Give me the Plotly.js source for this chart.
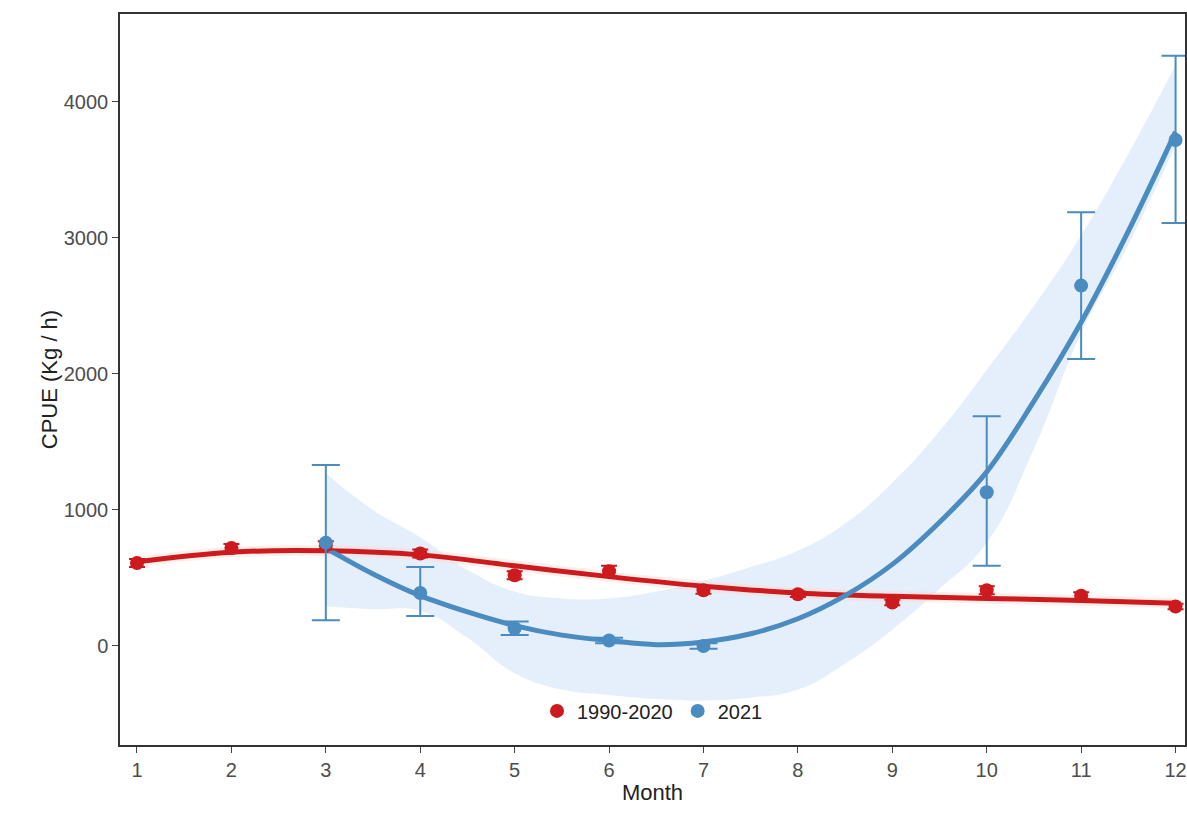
<!DOCTYPE html>
<html><head><script src="https://cdn.plot.ly/plotly-3.0.1.min.js"></script></head>
<body style="margin:0"><div id="plot" style="width:1187px;height:814px"></div>
<script>
var months = [1,2,3,4,5,6,7,8,9,10,11,12]
var redMean = [610,720,740,680,520,550,410,380,320,410,370,290]
var redErr = [30,30,30,30,30,40,25,20,20,30,25,20]
var redFit = [620,690,700,670,590,510,440,390,365,350,335,315]

var blueMonths = [3,4,5,6,7,10,11,12]
var blueMean = [760,390,130,40,0,1130,2650,3720]
var blueLow = [190,220,80,20,-20,590,2110,3110]
var blueHigh = [1330,580,180,60,20,1690,3190,4340]

var fitX = [3,3.5,4,4.5,5,5.5,6,6.5,7,7.5,8,8.5,9,9.5,10,10.5,11,11.5,12]
var blueFit = [720,530,370,250,150,80,40,10,30,90,200,370,600,910,1280,1800,2380,3050,3780]
var blueUpper = [1270,1000,800,560,400,350,350,400,480,580,700,900,1200,1580,2030,2500,3020,3620,4270]
var blueLower = [290,270,260,60,-200,-320,-360,-390,-400,-380,-320,-130,120,420,760,1450,2300,2950,3680]

var red = '#cc1a1f', blue = '#4a8bc0'
var traces = [
  {x: fitX, y: blueUpper, mode: 'lines', line: {width: 0, shape: 'spline', smoothing: 1.3}, showlegend: false, hoverinfo: 'skip'},
  {x: fitX, y: blueLower, mode: 'lines', line: {width: 0, shape: 'spline', smoothing: 1.3}, fill: 'tonexty', fillcolor: 'rgba(190,215,245,0.4)', showlegend: false, hoverinfo: 'skip'},
  {x: months, y: redFit.map(v => v + 40), mode: 'lines', line: {width: 0, shape: 'spline'}, showlegend: false},
  {x: months, y: redFit.map(v => v - 40), mode: 'lines', line: {width: 0, shape: 'spline'}, fill: 'tonexty', fillcolor: 'rgba(250,215,200,0.4)', showlegend: false},
  {x: months, y: redFit, mode: 'lines', line: {color: red, width: 5, shape: 'spline'}, showlegend: false},
  {x: fitX, y: blueFit, mode: 'lines', line: {color: blue, width: 5, shape: 'spline'}, showlegend: false},
  {x: months, y: redMean, mode: 'markers', name: '1990-2020', marker: {color: red, size: 14},
   error_y: {type: 'data', array: redErr, color: red, thickness: 2, width: 8}},
  {x: blueMonths, y: blueMean, mode: 'markers', name: '2021', marker: {color: blue, size: 14},
   error_y: {type: 'data', symmetric: false, array: blueHigh.map((h, i) => h - blueMean[i]),
     arrayminus: blueMean.map((m, i) => m - blueLow[i]), color: blue, thickness: 2, width: 14}}
]
Plotly.newPlot('plot', traces, {
  width: 1187, height: 814,
  margin: {l: 120, r: 2, t: 14, b: 69},
  paper_bgcolor: 'white', plot_bgcolor: 'white',
  font: {family: 'Liberation Sans, Arial', size: 20, color: '#4d4d4d'},
  xaxis: {range: [0.82, 12.1], tickvals: months, showgrid: false, zeroline: false,
    showline: true, mirror: true, linecolor: '#333', linewidth: 1.5, ticks: 'outside', ticklen: 6,
    title: {text: 'Month', font: {size: 22, color: '#222'}, standoff: 5}},
  yaxis: {range: [-728, 4647], tickvals: [0,1000,2000,3000,4000], showgrid: false, zeroline: false,
    showline: true, mirror: true, linecolor: '#333', linewidth: 1.5, ticks: 'outside', ticklen: 6,
    title: {text: 'CPUE (Kg / h)', font: {size: 22, color: '#222'}}},
  legend: {orientation: 'h', traceorder: 'normal', x: 0.5, xanchor: 'center', y: 0.02, yanchor: 'bottom',
    bgcolor: 'rgba(0,0,0,0)', font: {size: 20, color: '#222'}}
}, {displayModeBar: false})
</script></body></html>
